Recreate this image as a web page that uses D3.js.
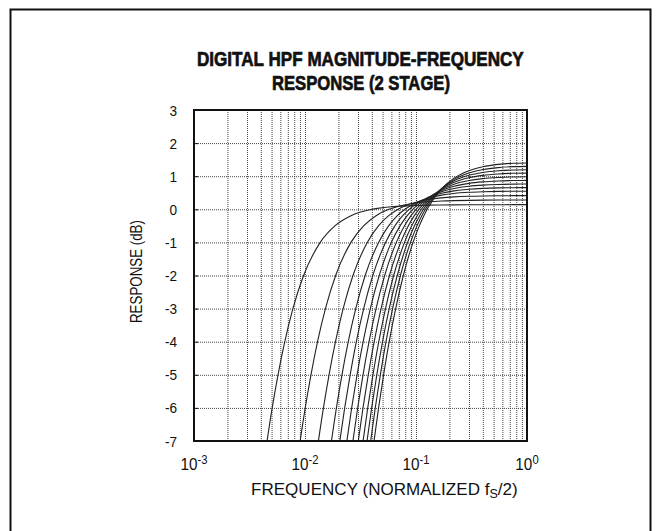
<!DOCTYPE html>
<html><head><meta charset="utf-8">
<script src="https://cdn.jsdelivr.net/npm/d3@7"></script>
<style>
html,body{margin:0;padding:0;background:#fff;}
svg{display:block;}
text{font-family:'Liberation Sans','Arial',sans-serif;fill:#111;}
</style></head>
<body><svg id="c" width="656" height="531"></svg>
<script>
// ---- data ----
const titleLines = ["DIGITAL HPF MAGNITUDE-FREQUENCY", "RESPONSE (2 STAGE)"];
const xTitle = "FREQUENCY (NORMALIZED f";
const yTitle = "RESPONSE (dB)";
const yTicks = [3, 2, 1, 0, -1, -2, -3, -4, -5, -6, -7];
const xTickExps = [-3, -2, -1, 0];
// dB levels at which the rising (low-frequency) part of every curve is read
const riseLevels = [-7.5, -6, -5, -4, -3, -2, -1, -0.5, -0.2, 0];
// frequency (normalized fs/2) where each curve crosses those levels
const riseFreqs = [
  [0.004325, 0.005064, 0.005715, 0.006572, 0.007781, 0.009713, 0.01371, 0.01857, 0.02569, 0.04026],
  [0.008598, 0.01005, 0.01132, 0.01297, 0.01528, 0.01888, 0.02595, 0.03372, 0.04333, 0.05694],
  [0.01256, 0.01466, 0.01647, 0.01882, 0.02207, 0.02705, 0.03639, 0.04590, 0.05643, 0.06914],
  [0.01648, 0.01919, 0.02153, 0.02453, 0.02865, 0.03484, 0.04601, 0.05668, 0.06759, 0.07947],
  [0.01959, 0.02278, 0.02551, 0.02901, 0.03377, 0.04082, 0.05320, 0.06453, 0.07553, 0.08686],
  [0.02268, 0.02633, 0.02944, 0.03342, 0.03877, 0.04662, 0.06001, 0.07182, 0.08307, 0.09369],
  [0.02573, 0.02983, 0.03332, 0.03776, 0.04366, 0.05221, 0.06652, 0.07886, 0.08988, 0.10006],
  [0.02877, 0.03331, 0.03715, 0.04201, 0.04844, 0.05765, 0.07284, 0.08538, 0.09625, 0.10606],
  [0.03178, 0.03674, 0.04094, 0.04620, 0.05311, 0.06292, 0.07881, 0.09151, 0.10231, 0.11175],
  [0.03452, 0.03986, 0.04435, 0.04997, 0.05732, 0.06777, 0.08404, 0.09692, 0.10757, 0.11672],
  [0.03724, 0.04295, 0.04773, 0.05368, 0.06155, 0.07239, 0.08916, 0.10209, 0.11262, 0.12151],
  [0.03995, 0.04601, 0.05108, 0.05736, 0.06562, 0.07687, 0.09408, 0.10708, 0.11749, 0.12613]
];
// upper (high-frequency) part of every curve, read at fixed frequencies
const highFreqs = [0.045, 0.06, 0.08, 0.1, 0.13, 0.17, 0.22, 0.3, 0.4, 0.55, 0.75, 1.0];
const highDb = [
  [0.028, 0.077, 0.104, 0.117, 0.126, 0.132, 0.135, 0.137, 0.139, 0.139, 0.140, 0.140],
  [null, 0.027, 0.138, 0.189, 0.227, 0.250, 0.263, 0.271, 0.276, 0.279, 0.280, 0.280],
  [null, null, 0.104, 0.215, 0.297, 0.346, 0.374, 0.394, 0.404, 0.409, 0.412, 0.413],
  [null, null, 0.007, 0.200, 0.342, 0.429, 0.479, 0.513, 0.530, 0.541, 0.546, 0.547],
  [null, null, null, 0.158, 0.361, 0.485, 0.557, 0.606, 0.631, 0.646, 0.653, 0.655],
  [null, null, null, 0.091, 0.364, 0.532, 0.629, 0.696, 0.730, 0.751, 0.761, 0.764],
  [null, null, null, null, 0.351, 0.570, 0.697, 0.784, 0.829, 0.856, 0.869, 0.873],
  [null, null, null, null, 0.322, 0.598, 0.759, 0.870, 0.927, 0.961, 0.978, 0.983],
  [null, null, null, null, 0.278, 0.617, 0.815, 0.953, 1.024, 1.067, 1.087, 1.093],
  [null, null, null, null, 0.224, 0.626, 0.862, 1.027, 1.112, 1.163, 1.188, 1.195],
  [null, null, null, null, 0.157, 0.626, 0.904, 1.099, 1.200, 1.260, 1.289, 1.298],
  [null, null, null, null, 0.078, 0.619, 0.941, 1.168, 1.286, 1.357, 1.391, 1.401]
];

// ---- layout ----
const L = 194, R = 527, T = 110, B = 441;
const svg = d3.select("#c");
const x = d3.scaleLog().domain([1e-3, 1]).range([L, R]);
const y = d3.scaleLinear().domain([-7, 3]).range([B, T]);

// fit a text (anchored at start) into a given horizontal span
function fitText(t, x0, base, width, rot) {
  const w = t.node().getComputedTextLength();
  const s = width / w;
  t.attr("transform", rot ? `translate(${x0},${base}) rotate(-90) scale(${s},1)`
                          : `translate(${x0},${base}) scale(${s},1)`);
}

// outer frame
svg.append("rect").attr("x", 10.5).attr("y", 9.5).attr("width", 640).attr("height", 600)
  .attr("fill", "none").attr("stroke", "#111").attr("stroke-width", 2);

// title
const t1 = svg.append("text").attr("font-size", 20.5).attr("font-weight", "bold")
  .attr("stroke", "#111").attr("stroke-width", 0.7).text(titleLines[0]);
fitText(t1, 197, 66.3, 327);
const t2 = svg.append("text").attr("font-size", 20.5).attr("font-weight", "bold")
  .attr("stroke", "#111").attr("stroke-width", 0.7).text(titleLines[1]);
fitText(t2, 272, 89.6, 178);

// grid
const minor = [];
for (let e = -3; e < 0; e++) for (let k = 1; k <= 9; k++) if (!(k === 1 && e === -3)) minor.push(k * Math.pow(10, e));
svg.append("g").attr("transform", `translate(0,${B})`)
  .call(d3.axisBottom(x).tickValues(minor).tickSize(-(B - T)).tickFormat(""))
  .call(g => g.select(".domain").remove())
  .call(g => g.selectAll("line").attr("stroke", "#444").attr("stroke-dasharray", "1,1"));
svg.append("g").attr("transform", `translate(${L},0)`)
  .call(d3.axisLeft(y).tickValues(yTicks.filter(v => v > -7 && v < 3)).tickSize(-(R - L)).tickFormat(""))
  .call(g => g.select(".domain").remove())
  .call(g => g.selectAll("line").attr("stroke", "#444").attr("stroke-dasharray", "1,1"));
// small inward ticks on left axis
svg.append("g").attr("transform", `translate(${L},0)`)
  .call(d3.axisRight(y).tickValues(yTicks).tickSize(4).tickFormat(""))
  .call(g => g.select(".domain").remove())
  .call(g => g.selectAll("line").attr("stroke", "#111"));

// curves
svg.append("clipPath").attr("id", "clip").append("rect")
  .attr("x", L).attr("y", T).attr("width", R - L).attr("height", B - T);
const line = d3.line().x(d => x(d[0])).y(d => y(d[1])).curve(d3.curveMonotoneX);
const curves = riseFreqs.map((fr, i) => {
  const pts = fr.map((f, j) => [f, riseLevels[j]]);
  highFreqs.forEach((f, j) => { if (highDb[i][j] !== null) pts.push([f, highDb[i][j]]); });
  return pts.sort((a, b) => a[0] - b[0]);
});
svg.append("g").attr("clip-path", "url(#clip)").selectAll("path").data(curves).join("path")
  .attr("d", line).attr("fill", "none").attr("stroke", "#222").attr("stroke-width", 1.1);

// plot border
svg.append("rect").attr("x", L).attr("y", T).attr("width", R - L).attr("height", B - T)
  .attr("fill", "none").attr("stroke", "#111").attr("stroke-width", 2);

// y tick labels
svg.append("g").selectAll("text").data(yTicks).join("text")
  .attr("transform", d => `translate(177,${y(d) + 5.5}) scale(0.88,1)`)
  .attr("text-anchor", "end").attr("font-size", 15.5).text(d => d);

// x tick labels
const xt = svg.append("g").selectAll("text").data(xTickExps).join("text")
  .attr("transform", d => `translate(${x(Math.pow(10, d))},470) scale(0.9,1)`)
  .attr("text-anchor", "middle").attr("font-size", 17);
xt.append("tspan").text("10");
xt.append("tspan").attr("dy", -6.5).attr("font-size", 12.5).text(d => d);

// axis titles
const xtT = svg.append("text").attr("font-size", 17);
xtT.append("tspan").text(xTitle);
xtT.append("tspan").attr("dy", 3).attr("font-size", 12.5).text("S");
xtT.append("tspan").attr("dy", -3).text("/2)");
fitText(xtT, 251, 495, 267);
const ytT = svg.append("text").attr("font-size", 17).text(yTitle);
fitText(ytT, 142, 323, 103, true);
</script></body></html>
